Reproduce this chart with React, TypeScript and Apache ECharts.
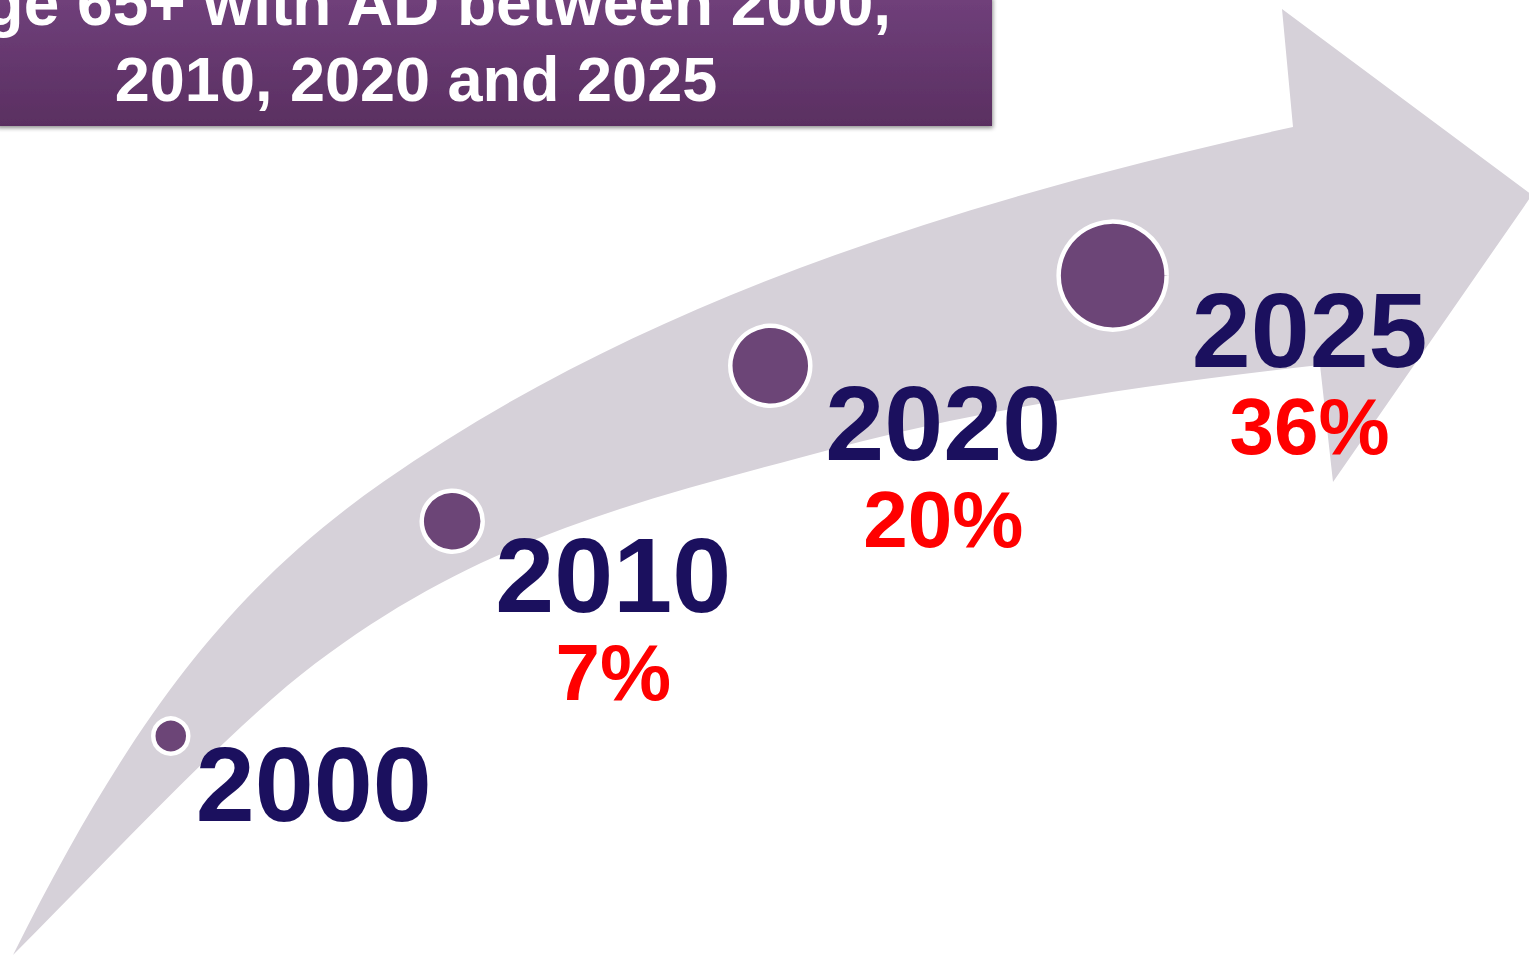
import React, { useEffect, useRef } from "react";
import * as echarts from "echarts";

// ---------------- data ----------------
const YEARS: string[] = ["2000", "2010", "2020", "2025"];
const INCREASE_PCT: (number | null)[] = [null, 7, 20, 36];
const TITLE_LINES: string[] = ["ge 65+ with AD between 2000,", "2010, 2020 and 2025"];

// ---------------- layout / style ----------------
const FONT = '"Liberation Sans", Arial, Helvetica, sans-serif';
const NAVY = "#1B105E";
const RED = "#FF0000";
const BUBBLE = "#6C4577";
const ARROW = "#D6D1D9";

const BUBBLE_SIZES = [35, 61, 80, 108];
const LABEL_OFFSETS: [number, number][] = [
  [143, -7],
  [161, -1],
  [173, 2],
  [197, -1],
];

// polar layout of the arc on which the circles sit
const POLAR_CENTER = [1397, 2051];
const POLAR_RADIUS = 1798;
const ANGLE_START = 133;
const ANGLE_STEP_DEG = 11.3;

// arrow outline (decoration): cubic segments [c1, c2, end]
const ARROW_START: [number, number] = [13, 955];
const UPPER_SEGMENTS: number[][] = [
  [133, 715, 233, 587, 383, 482],
  [633, 307, 943, 204, 1293, 127],
];
const HEAD: [number, number][] = [[1282, 9], [1532, 195], [1333, 482], [1320, 365]];
const LOWER_SEGMENTS_REVERSED: number[][] = [
  [1170, 381.5, 990, 406.5, 840, 447],
  [640, 501, 467, 538.4, 287, 686],
  [197, 762.5, 103, 865, 13, 955],
];

function arrowPath(): string {
  let d = `M ${ARROW_START[0]} ${ARROW_START[1]}`;
  UPPER_SEGMENTS.forEach((s) => (d += ` C ${s.join(" ")}`));
  HEAD.forEach((p) => (d += ` L ${p[0]} ${p[1]}`));
  LOWER_SEGMENTS_REVERSED.forEach((s) => (d += ` C ${s.join(" ")}`));
  d += " Z";
  return d;
}

let registered = false;
function registerArrow() {
  if (registered) return;
  echarts.graphic.registerShape("arrowBand", echarts.graphic.extendPath(arrowPath(), {}) as any);
  registered = true;
}

function buildOption(): any {
  return {
    animation: false,
    backgroundColor: "#ffffff",
    polar: { center: POLAR_CENTER, radius: POLAR_RADIUS },
    angleAxis: {
      type: "value",
      min: 0,
      max: 360 / ANGLE_STEP_DEG,
      startAngle: ANGLE_START,
      clockwise: true,
      show: false,
      axisLine: { show: false },
      axisTick: { show: false },
      axisLabel: { show: false },
      splitLine: { show: false },
    },
    radiusAxis: {
      type: "value",
      min: 0,
      max: 1,
      show: false,
      axisLine: { show: false },
      axisTick: { show: false },
      axisLabel: { show: false },
      splitLine: { show: false },
    },
    graphic: [
      {
        type: "arrowBand",
        x: 0,
        y: 0,
        z: 0,
        silent: true,
        style: { fill: ARROW },
      },
      {
        type: "rect",
        z: 1,
        silent: true,
        shape: { x: -4, y: -4, width: 996, height: 130 },
        style: {
          fill: new echarts.graphic.LinearGradient(0, 0, 0, 1, [
            { offset: 0, color: "#70407B" },
            { offset: 1, color: "#5A2F61" },
          ]),
          shadowBlur: 4,
          shadowOffsetY: 2,
          shadowOffsetX: 1,
          shadowColor: "rgba(0,0,0,0.45)",
        },
      },
      {
        type: "text",
        z: 2,
        silent: true,
        x: 891,
        y: 3,
        style: {
          text: TITLE_LINES[0],
          font: `bold 64px ${FONT}`,
          fill: "#ffffff",
          align: "right",
          verticalAlign: "middle",
          textAlign: "right",
          textVerticalAlign: "middle",
        },
      },
      {
        type: "text",
        z: 2,
        silent: true,
        x: 416,
        y: 79,
        style: {
          text: TITLE_LINES[1],
          font: `bold 63px ${FONT}`,
          fill: "#ffffff",
          align: "center",
          verticalAlign: "middle",
          textAlign: "center",
          textVerticalAlign: "middle",
        },
      },
    ],
    series: [
      {
        type: "scatter",
        coordinateSystem: "polar",
        clip: false,
        silent: true,
        z: 5,
        itemStyle: { color: BUBBLE, borderColor: "#ffffff", borderWidth: 4.5, opacity: 1 },
        emphasis: { disabled: true },
        label: {
          show: true,
          position: "inside",
          align: "center",
          verticalAlign: "top",
          fontFamily: FONT,
          opacity: 1,
          formatter: (p: any) => {
            const i = p.dataIndex;
            const pct = INCREASE_PCT[i];
            return pct == null ? `{y|${YEARS[i]}}` : `{y|${YEARS[i]}}\n{p|${pct}%}`;
          },
          rich: {
            y: {
              fontFamily: FONT,
              fontSize: 106,
              fontWeight: "bold",
              color: NAVY,
              lineHeight: 110,
              align: "center",
            },
            p: {
              fontFamily: FONT,
              fontSize: 80,
              fontWeight: "bold",
              color: RED,
              lineHeight: 84,
              align: "center",
            },
          },
        },
        data: YEARS.map((_, i) => ({
          value: [1, i],
          symbolSize: BUBBLE_SIZES[i],
          label: { offset: LABEL_OFFSETS[i] },
        })),
      },
    ],
  };
}

export default function App() {
  const ref = useRef<HTMLDivElement>(null);
  useEffect(() => {
    if (!ref.current) return;
    registerArrow();
    const chart = echarts.init(ref.current, null, { renderer: "svg" });
    chart.setOption(buildOption());
    return () => chart.dispose();
  }, []);
  return (
    <div
      ref={ref}
      style={{ position: "absolute", left: 0, top: 0, width: 1529, height: 956, background: "#fff" }}
    />
  );
}
